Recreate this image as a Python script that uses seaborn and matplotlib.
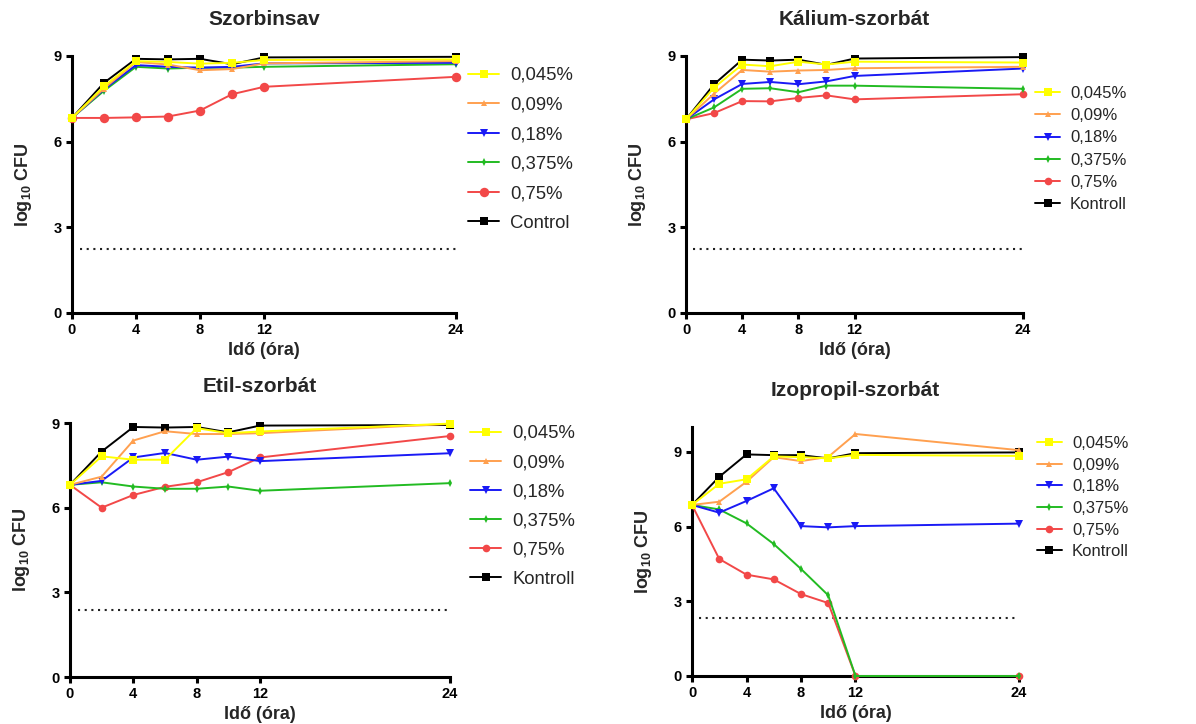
import matplotlib
matplotlib.use("Agg")
import matplotlib.pyplot as plt
import seaborn as sns
import pandas as pd
from matplotlib.lines import Line2D

# Sampling times (hours)
hours = [0, 2, 4, 6, 8, 10, 12, 24]
xticks = [0, 4, 8, 12, 24]

concentrations = ["0,045%", "0,09%", "0,18%", "0,375%", "0,75%"]

# Szorbinsav
sorbic_0045 = [6.83, 7.94, 8.82, 8.79, 8.73, 8.76, 8.86, 8.88]
sorbic_009 = [6.83, 7.86, 8.79, 8.70, 8.50, 8.54, 8.74, 8.82]
sorbic_018 = [6.83, 7.83, 8.68, 8.62, 8.59, 8.62, 8.74, 8.76]
sorbic_0375 = [6.83, 7.78, 8.62, 8.56, 8.59, 8.59, 8.62, 8.71]
sorbic_075 = [6.83, 6.83, 6.85, 6.88, 7.09, 7.66, 7.92, 8.27]
sorbic_ctrl = [6.83, 8.06, 8.90, 8.88, 8.90, 8.71, 8.95, 8.97]

# Kálium-szorbát
potassium_0045 = [6.78, 7.89, 8.70, 8.64, 8.80, 8.70, 8.80, 8.77]
potassium_009 = [6.78, 7.68, 8.51, 8.45, 8.49, 8.51, 8.57, 8.62]
potassium_018 = [6.78, 7.48, 8.02, 8.09, 8.01, 8.11, 8.30, 8.56]
potassium_0375 = [6.78, 7.20, 7.85, 7.87, 7.73, 7.96, 7.96, 7.85]
potassium_075 = [6.78, 7.00, 7.42, 7.41, 7.53, 7.62, 7.48, 7.66]
potassium_ctrl = [6.78, 8.01, 8.87, 8.84, 8.87, 8.69, 8.91, 8.96]

# Etil-szorbát
ethyl_0045 = [6.81, 7.82, 7.70, 7.70, 8.82, 8.64, 8.70, 8.98]
ethyl_009 = [6.81, 7.10, 8.38, 8.71, 8.61, 8.61, 8.64, 8.97]
ethyl_018 = [6.81, 6.95, 7.78, 7.94, 7.70, 7.81, 7.65, 7.93]
ethyl_0375 = [6.81, 6.90, 6.75, 6.67, 6.67, 6.75, 6.60, 6.87]
ethyl_075 = [6.81, 6.00, 6.45, 6.74, 6.90, 7.26, 7.78, 8.54]
ethyl_ctrl = [6.81, 7.99, 8.86, 8.84, 8.86, 8.67, 8.91, 8.93]

# Izopropil-szorbát
isopropyl_0045 = [6.87, 7.72, 7.90, 8.82, 8.79, 8.74, 8.88, 8.84]
isopropyl_009 = [6.87, 7.00, 7.80, 8.79, 8.63, 8.80, 9.72, 9.07]
isopropyl_018 = [6.87, 6.56, 7.03, 7.54, 6.02, 5.97, 6.02, 6.12]
isopropyl_0375 = [6.87, 6.69, 6.13, 5.30, 4.30, 3.24, 0.00, 0.00]
isopropyl_075 = [6.87, 4.70, 4.07, 3.88, 3.29, 2.93, 0.00, 0.00]
isopropyl_ctrl = [6.87, 8.00, 8.90, 8.87, 8.87, 8.74, 8.95, 8.98]

# Detection limits
limits = [2.23, 2.23, 2.36, 2.33]

titles = ["Szorbinsav", "Kálium-szorbát", "Etil-szorbát", "Izopropil-szorbát"]
control_names = ["Control", "Kontroll", "Kontroll", "Kontroll"]

panels = [
    [sorbic_0045, sorbic_009, sorbic_018, sorbic_0375, sorbic_075, sorbic_ctrl],
    [potassium_0045, potassium_009, potassium_018, potassium_0375, potassium_075, potassium_ctrl],
    [ethyl_0045, ethyl_009, ethyl_018, ethyl_0375, ethyl_075, ethyl_ctrl],
    [isopropyl_0045, isopropyl_009, isopropyl_018, isopropyl_0375, isopropyl_075, isopropyl_ctrl],
]

colors = ["#FFFF00", "#FFA04F", "#1A1AF5", "#22BB22", "#F24848", "#000000"]
markers = ["s", "^", "v", "d", "o", "s"]
base_sizes = [5.5, 5, 5.5, 4, 5.5, 5.5]

sns.set_theme(style="ticks")
plt.rcParams["font.family"] = ["Liberation Sans", "DejaVu Sans"]
plt.rcParams["mathtext.fontset"] = "custom"
plt.rcParams["mathtext.bf"] = "Liberation Sans:bold"
plt.rcParams["mathtext.rm"] = "Liberation Sans:bold"

fig = plt.figure(figsize=(11.96, 7.24), dpi=100)

# axes boxes [left, bottom, width, height] in figure fractions
boxes = [
    [0.0602, 0.5677, 0.3211, 0.3550],
    [0.5736, 0.5677, 0.2818, 0.3550],
    [0.0585, 0.0649, 0.3178, 0.3508],
    [0.5786, 0.0663, 0.2734, 0.3439],
]
ytops = [9, 9, 9, 10]
legend_cfg = [
    dict(anchor=(0.3913, 0.9075), fs=13.3, spacing=0.68, hl=1.7),
    dict(anchor=(0.8654, 0.881), fs=12, spacing=0.43, hl=1.5),
    dict(anchor=(0.393, 0.413), fs=13.3, spacing=0.66, hl=1.7),
    dict(anchor=(0.867, 0.398), fs=12, spacing=0.40, hl=1.5),
]

draw_order = [5, 4, 3, 2, 1, 0]

for p in range(4):
    ax = fig.add_axes(boxes[p])
    labels = concentrations + [control_names[p]]
    frame = pd.DataFrame(
        {
            "hour": hours * 6,
            "logcfu": sum(panels[p], []),
            "series": [lab for lab in labels for _ in hours],
        }
    )
    sizes = list(base_sizes)
    if p == 0:
        sizes[4] = 6.8
    for i in draw_order:
        sub = frame[frame["series"] == labels[i]]
        sns.lineplot(
            data=sub, x="hour", y="logcfu", ax=ax, color=colors[i],
            marker=markers[i], markersize=sizes[i], markeredgewidth=0,
            linewidth=1.4, clip_on=False, zorder=3 + (5 - i), legend=False,
        )
    ax.plot([0.5, 24], [limits[p], limits[p]], linestyle=(0, (1, 2.2)),
            color="#222222", linewidth=1.5)

    ax.set_xlim(0, 24)
    ax.set_ylim(0, ytops[p])
    ax.set_xticks(xticks)
    ax.set_yticks([0, 3, 6, 9])
    for s in ["top", "right"]:
        ax.spines[s].set_visible(False)
    for s in ["left", "bottom"]:
        ax.spines[s].set_linewidth(2.2)
        ax.spines[s].set_color("black")
    ax.tick_params(axis="both", direction="out", length=4.5, width=2.2,
                   labelsize=10.5, colors="black", pad=3)
    for t in ax.get_xticklabels() + ax.get_yticklabels():
        t.set_fontweight("bold")
    ax.set_xlabel("Idő (óra)", fontsize=13, fontweight="bold", labelpad=3)
    ax.set_ylabel(r"log$_{\mathbf{10}}$ CFU", fontsize=13, fontweight="bold", labelpad=14)
    ax.set_title(titles[p], fontsize=15, fontweight="bold", pad=22)

    handles = [
        Line2D([], [], color=colors[i], marker=markers[i], markersize=sizes[i],
               markeredgewidth=0, linewidth=1.4)
        for i in range(6)
    ]
    cfg = legend_cfg[p]
    fig.legend(handles, labels, loc="upper left", bbox_to_anchor=cfg["anchor"],
               frameon=False, fontsize=cfg["fs"], labelspacing=cfg["spacing"],
               handlelength=cfg["hl"], handletextpad=0.6, borderpad=0,
               borderaxespad=0)

fig.savefig("out.png", dpi=100)
